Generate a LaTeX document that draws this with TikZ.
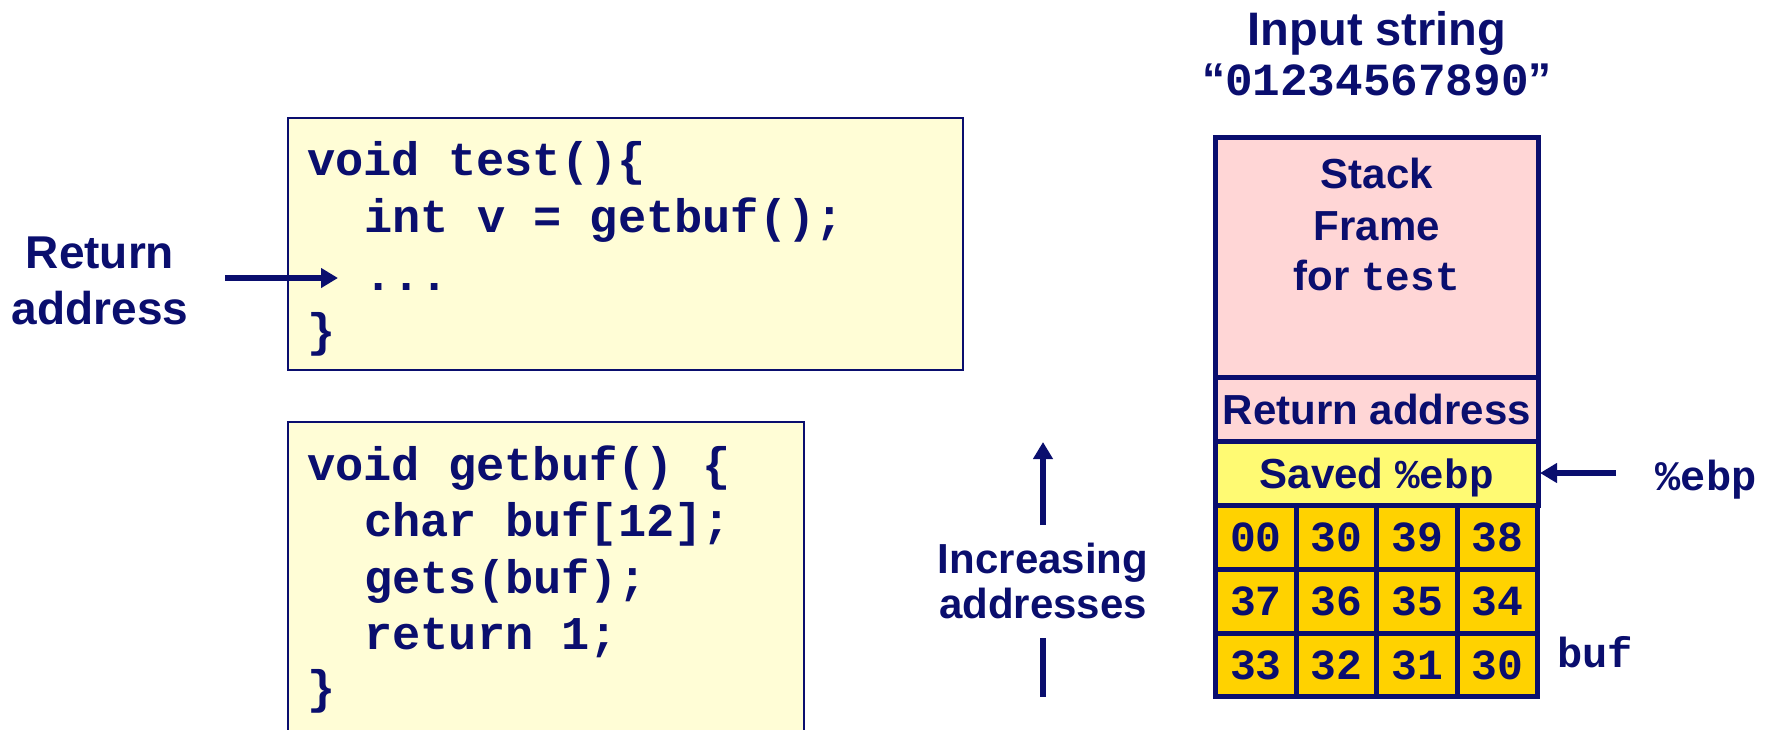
\documentclass[tikz,border=0pt]{standalone}
\usepackage{fontspec}
\setmainfont{Liberation Sans}
\setmonofont{Liberation Mono}
\usetikzlibrary{arrows.meta}
\definecolor{navy}{RGB}{10,14,110}
\definecolor{stackpink}{RGB}{255,214,214}
\definecolor{savedyel}{RGB}{255,250,115}
\definecolor{bytegold}{RGB}{255,210,0}
\definecolor{codefill}{RGB}{255,253,214}
\begin{document}
\begin{tikzpicture}[x=1pt,y=-1pt,
  lbl/.style={text=navy,inner sep=0pt,font=\fontsize{42}{50}\selectfont\bfseries},
  biglbl/.style={text=navy,inner sep=0pt,font=\fontsize{46}{54}\selectfont\bfseries},
  code/.style={text=navy,inner sep=0pt,anchor=base west,font=\fontsize{47}{57}\selectfont\ttfamily\bfseries},
  codebox/.style={draw=navy,fill=codefill,line width=2.5pt,inner sep=0pt,outer sep=0pt,anchor=north west},
  cell/.style={draw=navy,line width=5pt,inner sep=0pt,outer sep=0pt,anchor=north west,text=navy,text depth=0pt,font=\fontsize{42}{50}\selectfont\bfseries},
  bytecell/.style={cell,fill=bytegold,minimum width=80.6,font=\fontsize{43}{50}\selectfont\ttfamily\bfseries},
  arr/.style={draw=navy,line width=6pt,-{Triangle[length=17pt,width=19pt]}},
  mono/.style={text=navy,inner sep=0pt,font=\fontsize{42}{50}\selectfont\ttfamily\bfseries}
]
\useasboundingbox (0,0) rectangle (1766,729);
\clip (0,0) rectangle (1766,729);

% code box: test
\node[codebox,minimum width=675,minimum height=252] (testbox) at (288,118) {};
\node[code] (t1) at (307,175) {void test()\{};
\node[code] (t2) at (364,232) {int v = getbuf();};
\node[code] (t3) at (364,290) {...};
\node[code] (t4) at (307,346) {\}};

% code box: getbuf
\node[codebox,minimum width=516,minimum height=330] (getbox) at (288,422) {};
\node[code] (g1) at (307,480) {void getbuf() \{};
\node[code] (g2) at (364,536) {char buf[12];};
\node[code] (g3) at (364,593) {gets(buf);};
\node[code] (g4) at (364,649) {return 1;};
\node[code] (g5) at (307,703) {\}};

% return address label and arrow
\node[biglbl,anchor=base] (ra1) at (100,268) {Return};
\node[biglbl,anchor=base] (ra2) at (100,324) {address};
\coordinate (raS) at (225,278);
\coordinate (raE) at (338,278);
\draw[arr] (raS) -- (raE);

% increasing addresses
\node[lbl,anchor=base] (inc1) at (1043,573) {Increasing};
\node[lbl,anchor=base] (inc2) at (1043,618) {addresses};
\coordinate (incS) at (1043,525);
\coordinate (incT) at (1043,442);
\coordinate (incB1) at (1043,638);
\coordinate (incB2) at (1043,697);
\draw[arr] (incS) -- (incT);
\draw[draw=navy,line width=6pt] (incB1) -- (incB2);

% title
\node[biglbl,anchor=base,font=\fontsize{47}{54}\selectfont\bfseries] (title) at (1377,45) {Input string};
\node[biglbl,anchor=base] (str) at (1377,95) {“{\ttfamily 01234567890}”};

% stack
\node[cell,fill=stackpink,minimum width=322.5,minimum height=239.5] (frame) at (1215.5,137.5) {};
\node[lbl,anchor=base] (f1) at (1376.75,188) {Stack};
\node[lbl,anchor=base] (f2) at (1376.75,240) {Frame};
\node[lbl,anchor=base] (f3) at (1376.75,290) {for {\ttfamily\fontsize{41}{50}\selectfont test}};
\node[cell,fill=stackpink,minimum width=322.5,minimum height=64] (ret) at (1215.5,377) {Return address};
\node[cell,fill=savedyel,minimum width=322.5,minimum height=64] (saved) at (1215.5,441) {Saved {\ttfamily\fontsize{41}{50}\selectfont\%ebp}};

\node[bytecell,minimum height=64] (b00) at (1215.5,505) {00};
\node[bytecell,minimum height=64] (b01) at (1296.1,505) {30};
\node[bytecell,minimum height=64] (b02) at (1376.7,505) {39};
\node[bytecell,minimum height=64] (b03) at (1457.3,505) {38};
\node[bytecell,minimum height=64] (b10) at (1215.5,569) {37};
\node[bytecell,minimum height=64] (b11) at (1296.1,569) {36};
\node[bytecell,minimum height=64] (b12) at (1376.7,569) {35};
\node[bytecell,minimum height=64] (b13) at (1457.3,569) {34};
\node[bytecell,minimum height=63.5] (b20) at (1215.5,633) {33};
\node[bytecell,minimum height=63.5] (b21) at (1296.1,633) {32};
\node[bytecell,minimum height=63.5] (b22) at (1376.7,633) {31};
\node[bytecell,minimum height=63.5] (b23) at (1457.3,633) {30};

% ebp pointer
\node[mono,anchor=base] (ebp) at (1706,490) {\%ebp};
\coordinate (ebpS) at (1616,473);
\draw[arr] (ebpS) -- ([xshift=2pt]saved.east);

% buf label
\node[mono,anchor=base west] (buf) at (1557,667) {buf};
\end{tikzpicture}
\end{document}
